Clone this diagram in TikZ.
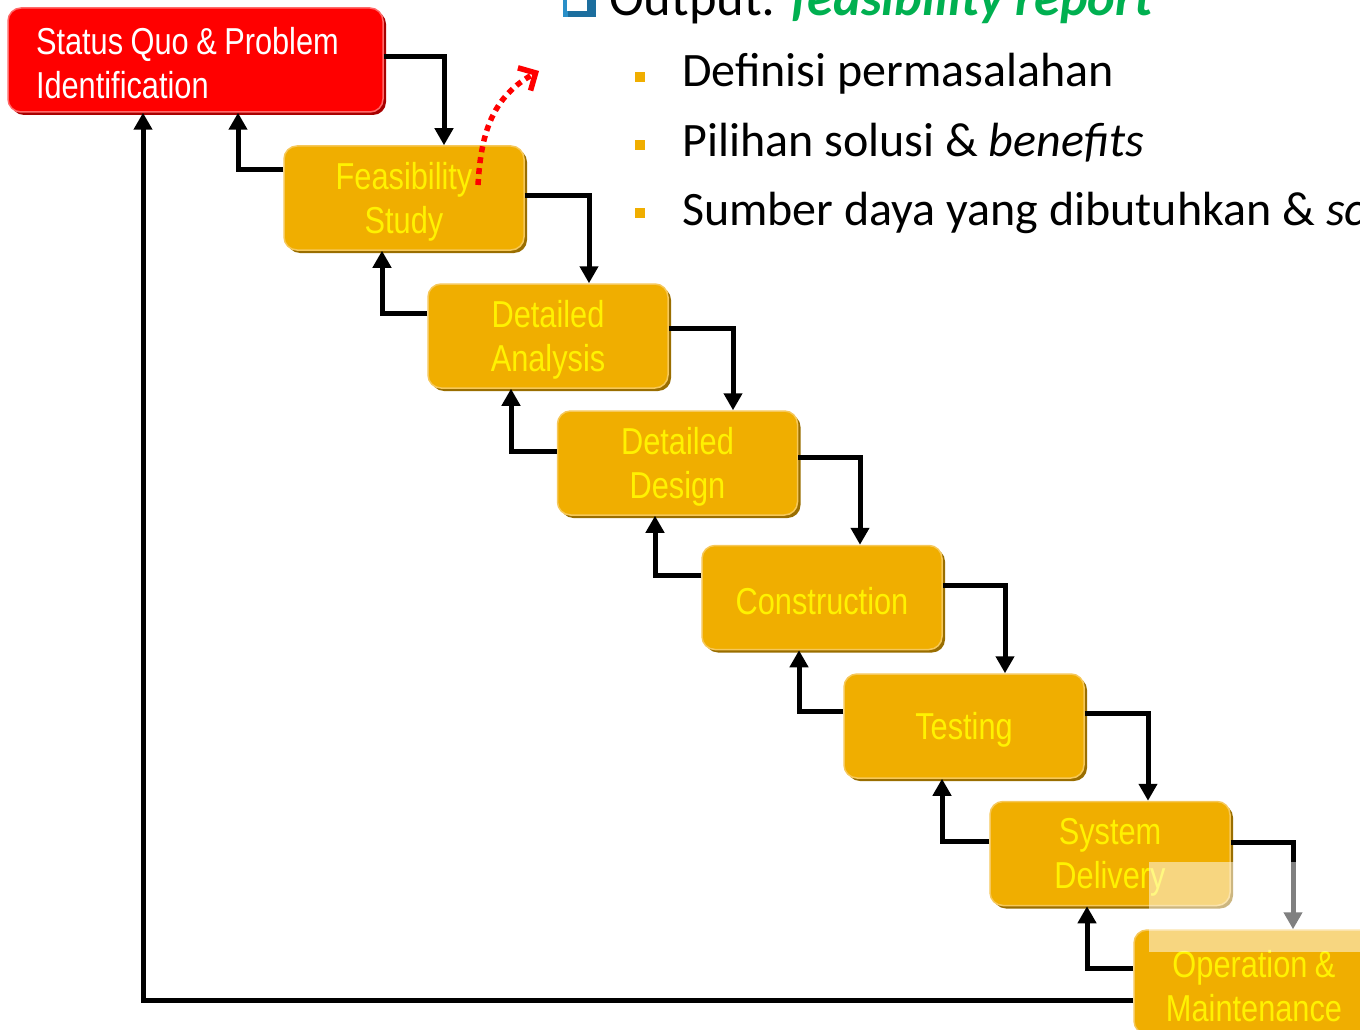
\documentclass[tikz,border=0pt]{standalone}
\usepackage{fontspec}
\setmainfont{Carlito}
\newfontfamily\boxfont[FakeStretch=0.82]{Liberation Sans}
\newcommand\phasefont{\boxfont\fontsize{37.5}{44.5}\selectfont}
\usetikzlibrary{arrows.meta,shadows}

\definecolor{phasefill}{HTML}{F0AE00}
\definecolor{phaseshade}{HTML}{9A6E00}
\definecolor{phaselight}{HTML}{F6C85A}
\definecolor{startfill}{HTML}{FF0000}
\definecolor{startshade}{HTML}{A80000}
\definecolor{startlight}{HTML}{FF6A6A}
\definecolor{reportgreen}{HTML}{00B050}
\definecolor{iconblue}{HTML}{2A8FC8}
\definecolor{icondark}{HTML}{1C6E9E}
\definecolor{bulletorange}{HTML}{F0AE00}

\tikzset{
  boxtext/.style={font=\phasefont, inner sep=0pt,
    execute at begin node={\spaceskip=7.5pt plus 1pt minus 1pt\relax}},
  phasetext/.style={boxtext, align=center, text=yellow, yshift=-4pt},
  starttext/.style={boxtext, align=left, text=white, text width=319pt, yshift=-3pt},
  phase/.style={rounded corners=13pt, fill=phasefill, draw=phaselight, line width=1.5pt,
    copy shadow={shadow xshift=3pt, shadow yshift=-3pt, fill=phaseshade, draw=none},
    minimum width=240pt, minimum height=104pt, inner sep=0pt},
  startbox/.style={rounded corners=13pt, fill=startfill, draw=startlight, line width=1.5pt,
    copy shadow={shadow xshift=3pt, shadow yshift=-3pt, fill=startshade, draw=none},
    minimum width=375pt, minimum height=104pt, inner sep=0pt},
  flow/.style={line width=5pt, -{Triangle[length=17pt,width=18pt]}},
  bullettext/.style={anchor=base west, inner sep=0pt, font=\fontsize{48}{57}\selectfont},
  bulletmark/.style={fill=bulletorange}
}

\begin{document}
\begin{tikzpicture}[x=1pt,y=-1pt]
\useasboundingbox (0,0) rectangle (1360,1030);
\clip (0,0) rectangle (1360,1030);

% phases of the waterfall
\node[startbox, label={[starttext]center:Status Quo \& Problem\\Identification}] (sq) at (195.5,60) {};
\node[phase, label={[phasetext]center:Feasibility\\Study}]       (fs)  at (404,198)    {};
\node[phase, label={[phasetext]center:Detailed\\Analysis}]       (da)  at (548,336)    {};
\node[phase, label={[phasetext]center:Detailed\\Design}]         (dd)  at (677.5,463)  {};
\node[phase, label={[phasetext]center:Construction}]             (con) at (822,597.5)  {};
\node[phase, label={[phasetext]center:Testing}]                  (tst) at (964,726)    {};
\node[phase, label={[phasetext]center:System\\Delivery}]         (sd)  at (1110,853.5) {};
\node[phase, label={[phasetext]center:Operation \&\\Maintenance}] (om) at (1254,982)   {};

% forward steps
\draw[flow] ([yshift=3pt]sq.east)    -| ([xshift=40pt]fs.north);
\draw[flow] ([yshift=3pt]fs.east)    -| ([xshift=41pt]da.north);
\draw[flow] ([yshift=8pt]da.east)    -| ([xshift=55.5pt]dd.north);
\draw[flow] ([yshift=6pt]dd.east)    -| ([xshift=38pt]con.north);
\draw[flow] ([yshift=12.5pt]con.east)-| ([xshift=41pt]tst.north);
\draw[flow] ([yshift=13pt]tst.east)  -| ([xshift=38pt]sd.north);
\draw[flow] ([yshift=11.5pt]sd.east) -| ([xshift=39pt]om.north);

% feedback steps
\draw[flow] ([yshift=29pt]fs.west)   -| ([xshift=42.5pt]sq.south);
\draw[flow] ([yshift=23pt]da.west)   -| ([xshift=-22pt]fs.south);
\draw[flow] ([yshift=12pt]dd.west)   -| ([xshift=-37pt]da.south);
\draw[flow] ([yshift=22.5pt]con.west)-| ([xshift=-22.5pt]dd.south);
\draw[flow] ([yshift=15pt]tst.west)  -| ([xshift=-23pt]con.south);
\draw[flow] ([yshift=12.5pt]sd.west) -| ([xshift=-22pt]tst.south);
\draw[flow] ([yshift=14pt]om.west)   -| ([xshift=-23pt]sd.south);
\draw[flow] ([yshift=-18pt]om.west)  -| ([xshift=-52.5pt]sq.south);

% dotted pointer from the feasibility study to its output
\coordinate (ptr) at (539,71);
\draw[red, line width=5.5pt, dash pattern=on 6pt off 5pt,
      -{Straight Barb[length=13pt,width=26pt,line width=5.5pt]}]
  ([xshift=74pt,yshift=13pt]fs.center) .. controls (481,130) and (494,96) .. (ptr);

% translucent panel over the lower right corner
\fill[white, opacity=0.5] (1149,862) rectangle (1360,952);

% output list
\fill[iconblue] (563,-20) rectangle (596,17);
\fill[icondark] (568,-20) rectangle (596,17);
\fill[white] (567,-20) rectangle (587,11);
\node[anchor=base west, inner sep=0pt, font=\fontsize{52.5}{62}\selectfont] (out) at (609,16)
  {Output: \textcolor{reportgreen}{\bfseries\itshape feasibility report}};

\fill[bulletmark] (635,72) rectangle (645,82);
\node[bullettext] (b1) at (682,87)  {Definisi permasalahan};
\fill[bulletmark] (635,140) rectangle (645,150);
\node[bullettext] (b2) at (682,157) {Pilihan solusi \& \textit{benefits}};
\fill[bulletmark] (635,208) rectangle (645,218);
\node[bullettext] (b3) at (682,225) {Sumber daya yang dibutuhkan \& \textit{schedule}};
\end{tikzpicture}
\end{document}
